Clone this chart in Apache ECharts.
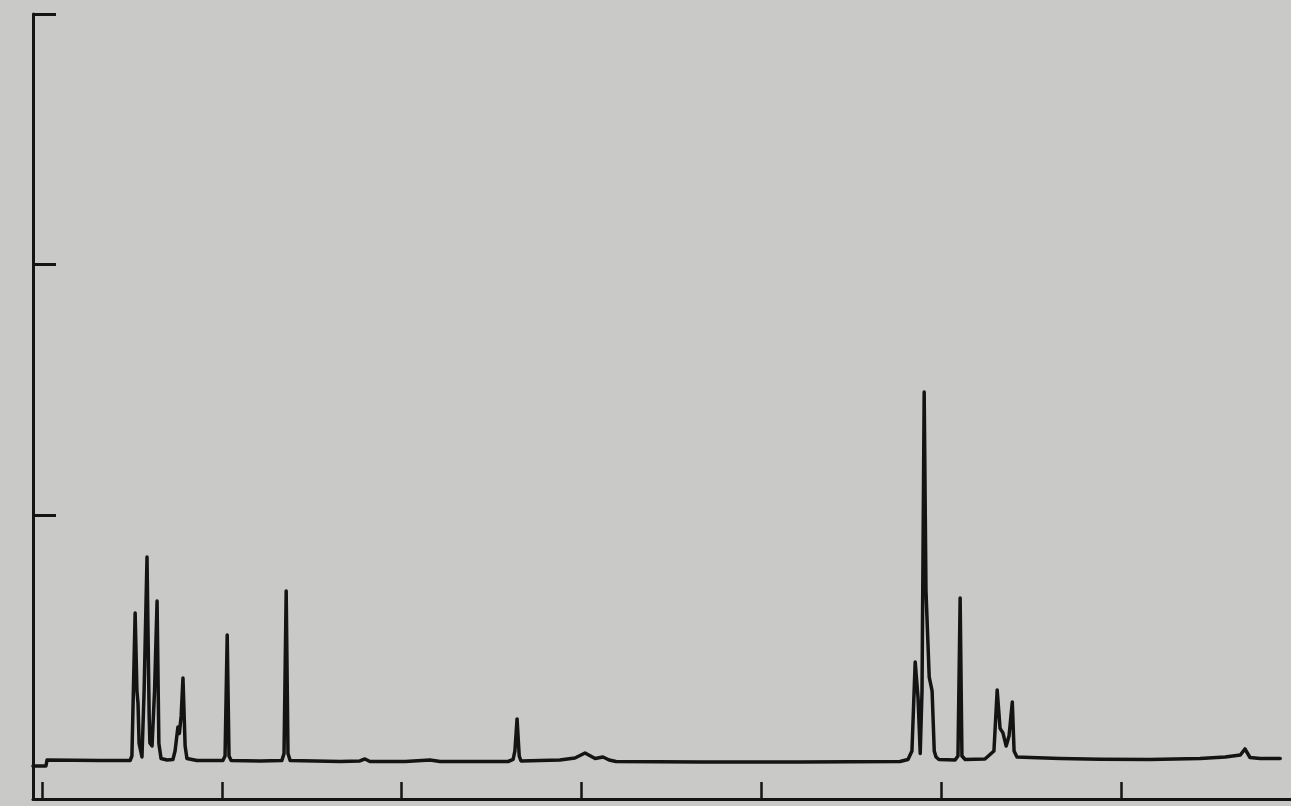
<!DOCTYPE html>
<html>
<head>
<meta charset="utf-8">
<title>Chromatogram</title>
<script src="https://cdn.jsdelivr.net/npm/echarts@6/dist/echarts.min.js"></script>
<style>
  html, body { margin: 0; padding: 0; background: #c9c9c7; }
  #chart { width: 1291px; height: 806px; }
</style>
</head>
<body>
<div id="chart"></div>
<script>
// Retention time (min) of each sampled point of the detector trace
const retentionTime = [
  -0.25, 0.11, 0.14, 1.61, 2.45,
  2.50, 2.59, 2.64, 2.67, 2.70, 2.78, 2.84, 2.92, 2.98, 3.00, 3.06, 3.13, 3.20, 3.25, 3.31,
  3.48, 3.64, 3.70, 3.78, 3.82, 3.87, 3.92, 3.98, 4.03, 4.31,
  5.03, 5.09, 5.15, 5.20, 5.26, 6.06,
  6.67, 6.73, 6.79, 6.84, 6.90, 8.29, 8.84, 8.98, 9.12, 10.10, 10.79, 11.07, 11.90,
  12.96, 13.10, 13.15, 13.21, 13.27, 13.32,
  14.40, 14.82, 15.10, 15.38, 15.60, 15.77, 15.96, 18.30, 21.08, 23.86,
  24.08, 24.19, 24.28, 24.36, 24.42, 24.47, 24.53, 24.58, 24.67, 24.75, 24.81, 24.86, 24.94,
  25.39, 25.47, 25.53, 25.58, 25.67,
  26.22, 26.47, 26.56, 26.64, 26.72, 26.81, 26.89, 26.98, 27.03, 27.11, 27.48,
  28.31, 29.42, 30.81, 32.20, 32.90, 33.32, 33.45, 33.59, 33.87, 34.43
];

// Detector response at each retention time
const response = [
  0.000, 0.000, 0.024, 0.022, 0.022,
  0.040, 0.610, 0.300, 0.250, 0.090, 0.036, 0.300, 0.834, 0.200, 0.092, 0.080, 0.300, 0.658, 0.090, 0.030,
  0.024, 0.026, 0.060, 0.156, 0.130, 0.200, 0.351, 0.080, 0.030, 0.022,
  0.022, 0.040, 0.523, 0.040, 0.022, 0.020,
  0.022, 0.050, 0.698, 0.050, 0.022, 0.018, 0.020, 0.028, 0.018, 0.018, 0.024, 0.018, 0.018,
  0.018, 0.026, 0.060, 0.188, 0.040, 0.020,
  0.024, 0.032, 0.052, 0.030, 0.036, 0.024, 0.018, 0.016, 0.016, 0.018,
  0.026, 0.060, 0.415, 0.271, 0.050, 0.300, 1.492, 0.700, 0.355, 0.300, 0.060, 0.036, 0.026,
  0.024, 0.040, 0.670, 0.040, 0.026,
  0.028, 0.060, 0.303, 0.150, 0.132, 0.080, 0.120, 0.255, 0.060, 0.036, 0.034,
  0.030, 0.027, 0.026, 0.030, 0.036, 0.044, 0.068, 0.034, 0.030, 0.030
];

// Tick positions on both axes (no labels are printed)
const timeTicks = [0, 5, 10, 15, 20, 25, 30];
const responseTicks = [1, 2, 3];

const trace = retentionTime.map((t, i) => [t, response[i]]);

const ink = '#141414';
const chart = echarts.init(document.getElementById('chart'), null, { renderer: 'canvas' });

chart.setOption({
  backgroundColor: '#c9c9c7',
  animation: false,
  grid: { left: 33, right: 0, top: 14, bottom: 7, containLabel: false },
  xAxis: {
    type: 'value',
    min: -0.25,
    max: 34.73,
    axisLine: { show: true, onZero: false, lineStyle: { color: ink, width: 3 } },
    axisTick: { show: true, inside: true, length: 17, customValues: timeTicks, lineStyle: { color: ink, width: 2.5 } },
    axisLabel: { show: false },
    splitLine: { show: false }
  },
  yAxis: {
    type: 'value',
    min: -0.1316,
    max: 3,
    axisLine: { show: true, onZero: false, lineStyle: { color: ink, width: 3 } },
    axisTick: { show: true, inside: true, length: 23, customValues: responseTicks, lineStyle: { color: ink, width: 3 } },
    axisLabel: { show: false },
    splitLine: { show: false }
  },
  series: [{
    type: 'line',
    data: trace,
    symbol: 'none',
    smooth: false,
    lineStyle: { color: ink, width: 3.5, join: 'round', cap: 'round' }
  }]
});
</script>
</body>
</html>
